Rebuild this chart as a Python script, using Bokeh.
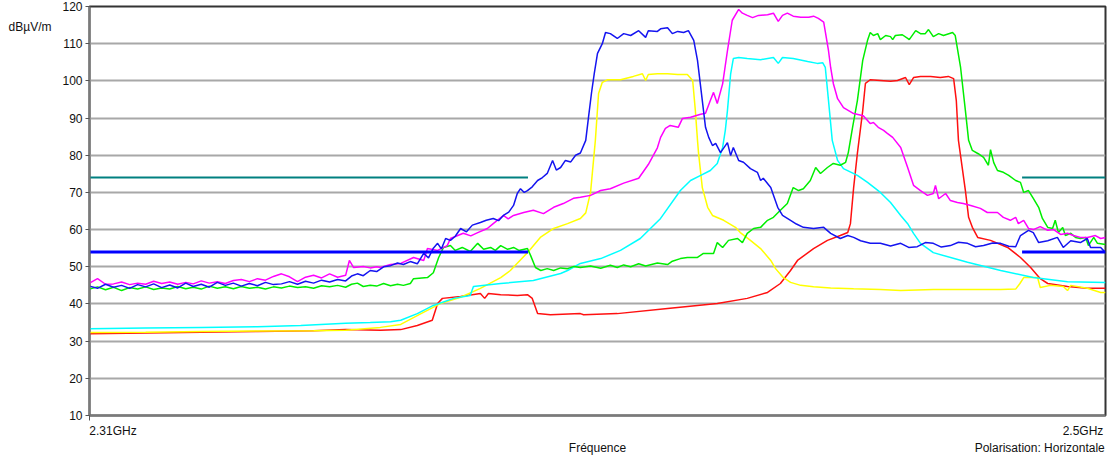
from bokeh.plotting import figure
from bokeh.models import Range1d, FixedTicker, LinearAxis
from bokeh.embed import file_html
from bokeh.resources import INLINE

FONT = "Liberation Sans"

# ---- data (frequency MHz, level dBuV/m) ----
Y_TICKS = [10, 20, 30, 40, 50, 60, 70, 80, 90, 100, 110, 120]
X_START, X_END = 2310, 2500
X_LABELS = ["2.31GHz", "2.5GHz"]
Y_UNIT = "dBµV/m"
X_TITLE = "Fréquence"
POLAR = "Polarisation: Horizontale"
LIMIT_PEAK = 74
LIMIT_AVG = 54
BAND_LOW = [2310, 2392]
BAND_HIGH = [2484.4, 2500]

BLUE = [(2310.0,44.8),(2311.5,44.2),(2313.0,45.3),(2314.5,44.5),(2316.0,45.0),(2317.5,44.2),(2319.0,45.2),(2320.5,44.6),
(2322.0,45.4),(2323.5,44.4),(2325.0,45.1),(2326.5,44.3),(2328.0,45.6),(2329.4,44.7),(2330.9,45.3),(2332.4,44.5),
(2333.9,45.8),(2335.4,45.0),(2336.9,45.6),(2338.4,44.8),(2339.9,45.5),(2341.4,44.9),(2342.9,45.8),(2344.4,45.2),
(2345.9,45.4),(2347.4,46.0),(2348.9,45.3),(2350.4,46.1),(2351.9,45.6),(2353.4,46.4),(2354.9,45.9),(2356.4,46.6),
(2357.9,46.2),(2359.0,47.5),(2360.1,48.1),(2361.2,47.6),(2362.5,49.0),(2363.7,48.7),(2365.0,50.0),(2366.3,50.3),
(2367.6,51.0),(2368.7,50.6),(2370.0,51.4),(2371.3,50.8),(2372.5,53.6),(2373.4,52.4),(2374.3,55.0),(2375.1,56.3),
(2375.8,54.8),(2376.6,57.6),(2377.5,57.1),(2378.4,58.2),(2379.4,60.3),(2380.5,59.4),(2381.6,61.2),(2383.1,61.9),
(2384.2,62.5),(2385.5,63.0),(2386.5,62.4),(2387.4,63.8),(2388.4,64.7),(2389.3,66.5),(2390.0,69.7),(2390.6,71.0),
(2391.3,70.0),(2391.9,70.5),(2392.8,71.5),(2393.8,73.2),(2394.7,74.0),(2395.6,75.1),(2396.6,78.6),(2397.3,76.0),
(2398.1,76.7),(2399.0,78.6),(2400.0,78.2),(2400.9,80.0),(2401.8,80.6),(2402.8,84.0),(2403.3,90.0),(2403.9,97.0),
(2404.4,102.0),(2405.0,107.4),(2405.9,110.0),(2406.5,113.0),(2407.4,112.7),(2408.7,111.4),(2409.9,112.7),(2411.2,112.2),
(2412.7,113.5),(2414.0,111.7),(2414.5,113.5),(2416.2,113.3),(2416.8,114.0),(2418.1,114.3),(2419.0,112.7),(2420.0,113.3),
(2421.1,113.0),(2422.0,113.5),(2423.0,110.9),(2423.7,105.5),(2424.6,94.7),(2425.2,87.5),(2425.8,84.8),(2426.5,82.6),
(2427.1,83.2),(2428.0,80.7),(2429.3,83.4),(2429.9,79.9),(2430.4,82.1),(2431.4,78.6),(2432.3,78.1),(2433.6,76.4),
(2434.9,75.4),(2435.5,73.2),(2436.0,73.8),(2437.4,71.3),(2438.7,66.0),(2439.6,63.8),(2441.1,62.5),(2442.2,61.5),
(2443.5,60.6),(2445.4,60.3),(2447.3,60.6),(2448.6,59.0),(2450.4,57.6),(2451.8,58.4),(2452.9,57.9),(2454.2,57.0),
(2456.0,56.3),(2457.9,56.3),(2459.8,55.6),(2461.7,56.3),(2463.2,55.2),(2464.8,55.4),(2466.3,56.5),(2467.8,56.3),
(2469.3,55.3),(2471.0,55.7),(2472.5,56.6),(2474.2,56.3),(2475.7,55.4),(2477.2,55.7),(2478.9,56.4),(2480.4,56.3),
(2481.9,55.5),(2483.2,55.4),(2484.1,58.4),(2485.6,59.8),(2486.5,59.2),(2487.5,56.5),(2489.2,57.0),(2491.0,57.9),
(2492.1,55.2),(2493.5,57.0),(2495.3,56.5),(2496.6,57.6),(2497.2,55.2),(2499.1,55.2),(2500.0,53.8)]

MAGENTA = [(2310.0,45.6),(2311.5,46.8),(2313.0,45.3),(2314.5,45.4),(2316.0,45.9),(2317.5,45.2),(2319.0,45.6),(2320.5,45.3),
(2322.0,46.1),(2323.5,45.5),(2325.0,45.9),(2326.5,45.3),(2328.0,45.8),(2329.4,45.4),(2330.9,46.2),(2332.4,45.6),
(2333.9,46.0),(2335.4,45.5),(2336.9,46.3),(2338.4,46.6),(2339.9,46.0),(2341.4,46.8),(2342.9,46.4),(2344.4,47.4),
(2345.9,48.1),(2347.4,47.3),(2348.9,46.0),(2350.4,47.2),(2351.9,47.7),(2353.4,47.0),(2354.9,48.1),(2356.4,47.2),
(2357.9,47.7),(2358.6,51.7),(2359.4,49.8),(2361.2,50.1),(2362.5,49.7),(2363.7,50.0),(2364.4,49.8),(2366.3,50.6),
(2368.2,50.9),(2370.6,52.5),(2372.5,51.7),(2373.2,54.9),(2375.1,54.4),(2376.9,55.7),(2377.5,57.6),(2379.9,59.0),
(2381.3,58.3),(2382.6,59.2),(2384.4,60.3),(2385.5,61.6),(2387.4,63.8),(2388.3,62.9),(2389.3,63.8),(2391.2,64.6),
(2393.0,65.2),(2394.9,64.3),(2396.8,66.0),(2398.6,67.0),(2400.5,68.4),(2401.8,68.7),(2403.7,69.2),(2405.6,70.5),
(2407.4,71.0),(2409.9,72.5),(2412.7,73.8),(2414.5,77.5),(2416.2,82.0),(2416.8,84.8),(2417.7,87.2),(2418.6,88.0),
(2420.1,87.5),(2420.9,89.9),(2422.4,90.2),(2424.3,91.0),(2425.2,91.3),(2426.1,94.7),(2426.7,96.9),(2427.4,93.9),
(2428.4,99.2),(2429.3,108.1),(2430.2,116.3),(2431.4,119.2),(2432.1,118.2),(2433.0,117.6),(2434.0,117.0),(2435.1,117.6),
(2436.8,117.8),(2437.9,118.2),(2438.8,116.0),(2439.6,117.6),(2440.5,118.2),(2441.6,117.4),(2443.0,117.1),(2444.5,117.1),
(2445.4,117.4),(2446.3,116.8),(2447.3,115.8),(2448.2,108.1),(2448.6,103.6),(2449.1,99.3),(2449.9,95.2),(2451.0,92.8),
(2452.9,91.2),(2454.7,90.6),(2456.0,88.5),(2456.6,88.8),(2457.5,87.5),(2458.5,86.7),(2459.2,85.9),(2460.2,84.8),
(2461.7,82.1),(2463.0,76.7),(2464.1,71.9),(2465.4,70.5),(2466.7,69.2),(2467.8,69.7),(2468.2,71.9),(2468.8,68.3),
(2470.1,69.7),(2471.0,67.8),(2472.3,67.3),(2473.4,67.0),(2474.8,66.5),(2476.6,65.7),(2477.9,64.6),(2479.8,64.6),
(2480.9,63.3),(2482.2,62.5),(2483.2,63.3),(2483.7,61.6),(2484.7,62.5),(2485.6,60.3),(2486.5,60.0),(2487.8,60.8),
(2489.2,59.8),(2490.3,60.0),(2491.6,58.7),(2492.9,59.0),(2494.0,58.4),(2495.3,57.9),(2496.6,57.9),(2498.1,58.4),
(2499.1,57.6),(2500.0,57.9)]

GREEN = [(2310.0,44.0),(2311.5,44.6),(2313.0,43.8),(2314.5,44.5),(2316.0,43.6),(2317.5,44.4),(2319.0,44.0),(2320.5,44.6),
(2322.0,43.9),(2323.5,44.3),(2325.0,44.0),(2326.5,44.7),(2328.0,44.1),(2329.4,44.5),(2330.9,44.0),(2332.4,44.8),
(2333.9,44.2),(2335.4,44.6),(2336.9,44.1),(2338.4,44.7),(2339.9,44.2),(2341.4,44.5),(2342.9,44.0),(2344.4,44.6),
(2345.9,44.3),(2347.4,44.8),(2348.9,44.4),(2350.4,44.6),(2351.9,44.2),(2353.4,44.9),(2354.9,44.6),(2356.4,45.0),
(2357.9,44.5),(2359.0,45.3),(2360.1,45.6),(2361.2,44.7),(2362.5,45.0),(2363.7,44.8),(2365.0,45.5),(2366.3,44.9),
(2367.6,45.3),(2368.7,45.0),(2370.0,45.5),(2370.6,46.8),(2373.2,47.1),(2374.3,48.4),(2375.3,52.5),(2376.2,55.2),
(2377.5,55.7),(2378.4,54.4),(2379.7,55.2),(2381.2,54.1),(2382.6,56.3),(2383.7,54.7),(2385.0,55.2),(2385.9,54.4),
(2386.9,55.7),(2388.2,54.7),(2389.3,55.2),(2390.3,54.4),(2391.9,54.9),(2392.5,53.0),(2393.4,49.8),(2394.4,49.0),
(2395.6,49.5),(2396.8,49.0),(2398.1,49.7),(2399.4,49.5),(2400.6,50.1),(2401.8,49.8),(2403.7,50.2),(2405.6,49.6),
(2407.4,50.4),(2408.7,49.8),(2409.9,50.5),(2411.2,50.0),(2412.7,50.8),(2414.0,50.2),(2416.2,51.0),(2418.1,50.6),
(2419.0,51.5),(2420.5,52.2),(2421.8,52.5),(2423.7,52.5),(2424.8,53.6),(2426.7,53.6),(2427.4,56.5),(2428.4,55.2),
(2429.5,57.1),(2431.2,57.6),(2432.1,56.5),(2433.0,59.0),(2434.2,60.3),(2435.5,60.6),(2436.8,62.5),(2437.9,63.3),
(2439.2,65.2),(2440.5,67.0),(2441.6,71.3),(2442.6,70.5),(2443.5,71.0),(2444.8,73.2),(2445.8,76.7),(2446.7,75.1),
(2448.0,76.7),(2449.1,77.8),(2450.4,77.3),(2451.4,78.1),(2451.9,80.7),(2452.7,87.5),(2453.6,94.7),(2454.6,105.5),
(2455.5,110.9),(2456.0,113.0),(2456.6,112.2),(2457.4,112.7),(2457.9,111.1),(2458.9,112.2),(2459.8,111.9),(2460.2,111.1),
(2460.7,112.2),(2462.0,112.4),(2463.0,111.4),(2463.3,111.1),(2464.5,113.5),(2465.4,112.7),(2466.3,112.7),(2466.9,113.8),
(2467.8,111.9),(2468.8,112.7),(2469.7,112.2),(2471.4,113.0),(2471.9,112.2),(2472.9,103.6),(2473.8,92.0),(2474.4,84.0),
(2475.1,81.3),(2476.2,80.4),(2477.2,79.4),(2478.1,77.3),(2478.5,81.5),(2479.1,78.0),(2479.8,75.9),(2480.9,75.4),
(2481.9,74.6),(2483.2,73.2),(2484.1,72.7),(2484.7,70.0),(2485.6,70.5),(2486.5,68.4),(2487.5,66.0),(2488.2,63.0),
(2489.2,60.6),(2490.1,60.3),(2490.6,62.5),(2491.2,59.2),(2492.0,60.6),(2492.5,58.4),(2493.5,59.0),(2494.4,57.9),
(2495.3,57.6),(2496.3,57.9),(2496.8,55.7),(2497.8,57.9),(2498.5,56.3),(2500.0,56.0)]

YELLOW = [(2310.0,32.3),(2320.5,32.4),(2330.9,32.6),(2341.4,32.7),(2351.9,32.8),(2357.9,32.9),(2364.4,33.7),(2368.2,34.5),
(2372.0,37.4),(2375.6,40.1),(2379.4,41.8),(2383.1,44.2),(2386.9,47.1),(2388.7,49.0),(2391.9,53.8),(2394.3,57.9),
(2396.8,60.3),(2399.4,61.6),(2401.8,63.0),(2402.8,64.5),(2403.7,70.0),(2404.6,84.0),(2405.2,96.6),(2405.9,99.6),
(2406.9,100.3),(2409.3,100.3),(2411.7,101.2),(2413.4,101.9),(2414.0,100.1),(2414.5,101.7),(2416.2,101.9),(2418.1,101.9),
(2420.0,101.7),(2421.8,101.7),(2422.8,100.1),(2423.3,92.0),(2423.7,84.0),(2423.9,80.5),(2424.6,71.3),(2425.6,66.0),
(2426.5,63.8),(2428.6,62.5),(2430.8,60.6),(2431.7,59.2),(2433.6,57.1),(2435.5,54.9),(2437.4,51.7),(2438.3,49.5),
(2439.6,47.3),(2441.1,45.8),(2443.0,45.0),(2445.4,44.6),(2448.6,44.3),(2452.9,44.1),(2457.9,43.9),(2461.7,43.6),
(2467.8,43.9),(2474.2,43.9),(2480.4,43.9),(2483.2,44.0),(2484.0,45.5),(2484.7,47.1),(2487.3,47.1),(2487.8,44.4),
(2489.7,45.0),(2492.1,44.7),(2492.9,43.6),(2493.5,45.0),(2496.6,44.2),(2499.1,43.1),(2500.0,43.1)]

CYAN = [(2310.0,33.3),(2320.5,33.5),(2330.9,33.7),(2341.4,33.9),(2349.5,34.2),(2357.9,34.8),(2362.5,35.0),(2366.3,35.2),
(2368.2,35.6),(2371.3,37.4),(2374.3,39.6),(2378.1,41.5),(2381.2,42.3),(2381.8,44.7),(2386.9,45.5),(2393.0,46.3),
(2398.1,48.2),(2399.4,49.0),(2401.8,50.9),(2405.6,52.2),(2409.3,54.4),(2413.0,57.6),(2416.8,63.0),(2420.5,70.5),
(2422.4,73.2),(2424.3,74.6),(2426.1,75.9),(2427.4,77.8),(2428.4,82.1),(2428.9,86.7),(2429.3,92.0),(2429.9,101.9),
(2430.4,106.0),(2431.4,106.3),(2433.0,106.0),(2435.5,105.7),(2437.9,106.3),(2438.8,104.7),(2439.6,106.3),(2441.6,106.0),
(2444.3,105.2),(2446.1,104.7),(2447.1,104.9),(2447.6,103.6),(2448.2,94.7),(2448.9,84.0),(2449.9,78.6),(2451.0,76.4),
(2453.6,74.6),(2455.5,72.7),(2457.9,70.0),(2459.8,67.3),(2461.7,63.8),(2463.0,61.6),(2464.1,59.0),(2465.4,56.3),
(2467.8,53.8),(2474.2,51.2),(2480.4,49.0),(2486.5,47.1),(2492.9,46.0),(2500.0,45.8)]

RED = [(2310.0,32.0),(2320.5,32.2),(2330.9,32.4),(2341.4,32.6),(2351.9,32.8),(2357.9,33.1),(2364.4,32.9),(2368.2,33.1),
(2371.3,34.2),(2374.1,35.6),(2375.1,40.1),(2376.0,41.5),(2379.4,42.0),(2383.1,42.8),(2383.9,41.5),(2384.6,42.8),
(2386.9,42.5),(2390.0,42.3),(2391.9,42.5),(2392.8,41.5),(2393.8,37.4),(2396.2,37.1),(2401.8,37.4),(2402.4,37.1),
(2408.7,37.4),(2418.1,38.8),(2427.4,40.1),(2433.0,41.5),(2436.8,43.1),(2439.2,45.5),(2441.1,49.0),(2442.4,51.7),
(2445.4,54.9),(2448.0,57.1),(2450.4,58.4),(2451.8,59.2),(2452.3,61.6),(2452.9,71.3),(2453.6,80.5),(2454.6,92.0),
(2455.1,99.3),(2456.0,100.3),(2457.9,100.1),(2459.8,99.9),(2461.1,100.1),(2462.6,100.9),(2463.3,99.0),(2464.1,100.9),
(2465.4,101.2),(2467.3,101.2),(2469.1,100.9),(2470.6,101.2),(2471.6,100.6),(2472.1,94.7),(2472.5,84.0),(2473.8,70.5),
(2474.4,63.3),(2475.1,60.6),(2476.1,57.9),(2478.5,57.1),(2481.7,55.2),(2484.1,52.5),(2486.0,49.8),(2487.8,46.8),
(2489.2,45.5),(2492.9,44.7),(2496.6,44.2),(2500.0,44.2)]

SERIES = [(RED, "#ff1010"), (YELLOW, "#ffff00"), (CYAN, "#00ffff"),
          (GREEN, "#00ee00"), (MAGENTA, "#ff00ff"), (BLUE, "#1414f0")]

TXT = "#111111"

p = figure(width=1110, height=460, output_backend="svg", toolbar_location=None,
           x_range=Range1d(X_START, X_END), y_range=Range1d(Y_TICKS[0], Y_TICKS[-1]),
           min_border_left=89, min_border_right=5, min_border_top=6, min_border_bottom=45)
p.background_fill_color = "white"
p.border_fill_color = "white"
p.outline_line_color = "#333333"
p.outline_line_width = 2

p.xgrid.visible = False
p.ygrid.ticker = FixedTicker(ticks=Y_TICKS[1:-1])
p.ygrid.grid_line_color = "#a8a8a8"
p.ygrid.grid_line_width = 2

# main y axis
ya = p.left[0]
ya.ticker = FixedTicker(ticks=Y_TICKS)
ya.axis_line_color = "#7a7a7a"
ya.axis_line_width = 2
ya.major_tick_line_color = "#555555"
ya.major_tick_out = 4
ya.major_tick_in = 0
ya.minor_tick_line_color = None
ya.major_label_standoff = 3
ya.major_label_text_font = FONT
ya.major_label_text_font_size = "12px"
ya.major_label_text_color = TXT

# unit text as an extra left axis, placed near the top of the scale
unit_pos = 114.4
ua = LinearAxis(ticker=FixedTicker(ticks=[unit_pos]), major_label_overrides={unit_pos: Y_UNIT},
                axis_line_color=None, major_tick_line_color=None, minor_tick_line_color=None,
                major_tick_out=0, major_tick_in=0, major_label_standoff=8,
                major_label_text_font=FONT, major_label_text_font_size="12px",
                major_label_text_color=TXT)
p.add_layout(ua, "left")

# main x axis: end labels (positions = centres of the label texts)
xa = p.below[0]
lpos = [2314.4, 2495.8]
xa.ticker = FixedTicker(ticks=lpos, minor_ticks=[X_START])
xa.major_label_overrides = {lpos[0]: X_LABELS[0], lpos[1]: X_LABELS[1]}
xa.axis_line_color = "#7a7a7a"
xa.axis_line_width = 2
xa.major_tick_line_color = None
xa.major_tick_out = 5
xa.major_tick_in = 0
xa.minor_tick_line_color = "#555555"
xa.minor_tick_out = 5
xa.minor_tick_in = 0
xa.major_label_standoff = 3
xa.major_label_text_font = FONT
xa.major_label_text_font_size = "12px"
xa.major_label_text_color = TXT

# second row of bottom texts
tpos = [2405.0, 2487.7]
ta = LinearAxis(ticker=FixedTicker(ticks=tpos), major_label_overrides={tpos[0]: X_TITLE, tpos[1]: POLAR},
                axis_line_color=None, major_tick_line_color=None, minor_tick_line_color=None,
                major_tick_out=0, major_tick_in=0, major_label_standoff=0,
                major_label_text_font=FONT, major_label_text_font_size="12px",
                major_label_text_color=TXT)
p.add_layout(ta, "below")

for data, color in SERIES:
    xs = [d[0] for d in data]
    ys = [d[1] for d in data]
    p.line(xs, ys, line_color=color, line_width=1.5)

for band in (BAND_LOW, BAND_HIGH):
    p.line(band, [LIMIT_PEAK, LIMIT_PEAK], line_color="#008080", line_width=2)
    p.line(band, [LIMIT_AVG, LIMIT_AVG], line_color="#0000ff", line_width=3)

open("out.html", "w").write(file_html(p, INLINE))
